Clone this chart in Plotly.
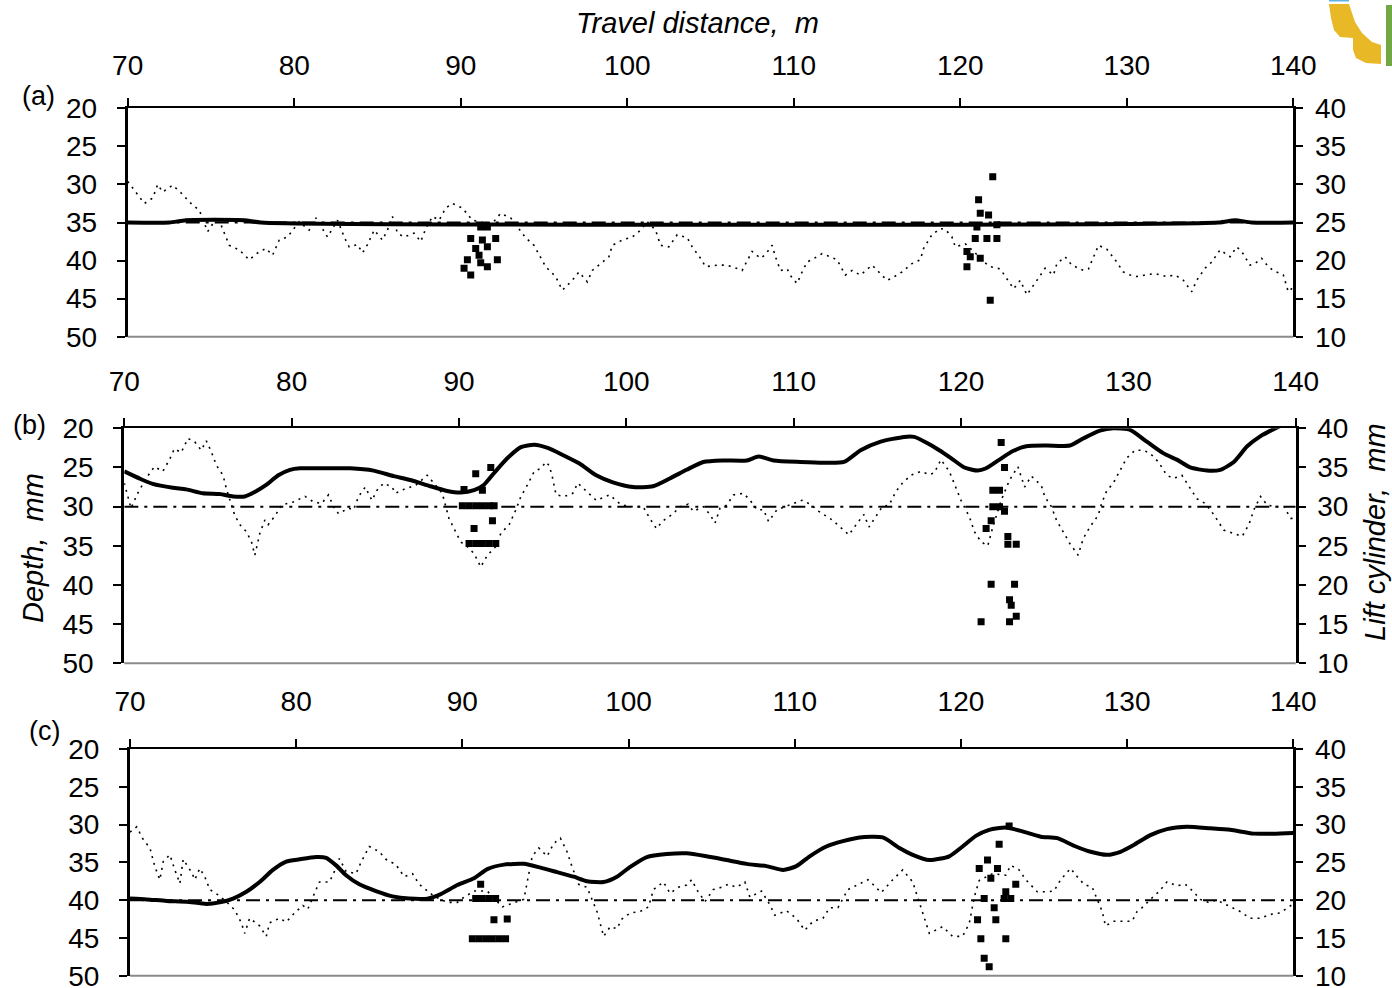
import plotly.graph_objects as go

# ---------------------------------------------------------------------------
# Data: travel distance (m), measured depth (mm, left axis),
# lift cylinder stroke (mm, right axis), target depth and spot checks.
# ---------------------------------------------------------------------------
X_RANGE = [70, 140]
X_TICKS = [70, 80, 90, 100, 110, 120, 130, 140]
DEPTH_TICKS = [20, 25, 30, 35, 40, 45, 50]
LIFT_TICKS = [10, 15, 20, 25, 30, 35, 40]

# ---- (a) ----
A_DEPTH_X = [70.0, 70.5, 71.0, 71.5, 71.8, 72.1, 72.7, 73.2, 73.8, 74.3, 74.8, 75.4, 76.1, 76.7,
             77.3, 77.8, 78.3, 78.7, 79.1, 79.6, 80.3, 80.9, 81.3, 81.8, 82.0, 82.6, 83.0, 83.3,
             83.8, 84.1, 84.4, 84.8, 85.3, 85.6, 85.9, 86.2, 86.6, 87.2, 87.6, 87.9, 88.3, 88.7,
             89.1, 89.5, 90.1, 90.7, 91.3, 91.9, 92.4, 93.0, 93.5, 93.9, 94.4, 94.8, 95.1, 95.7,
             96.1, 96.7, 97.1, 97.6, 97.9, 98.4, 98.9, 99.1, 99.7, 100.3, 100.7, 101.2, 101.7,
             102.0, 102.5, 103.0, 103.6, 103.9, 104.4, 104.7, 105.4, 105.9, 106.3, 106.9, 107.1,
             107.5, 108.0, 108.3, 108.7, 108.9, 109.2, 109.6, 109.9, 110.2, 110.5, 110.8, 111.4,
             111.7, 112.2, 112.6, 113.1, 113.5, 114.0, 114.7, 115.2, 115.6, 115.9, 116.5, 117.1,
             117.6, 117.8, 118.3, 118.8, 119.1, 119.5, 119.7, 120.3, 120.9, 121.3, 121.8, 122.4,
             122.9, 123.2, 123.6, 124.0, 124.6, 125.1, 125.6, 125.8, 126.3, 126.7, 127.4, 127.7,
             128.3, 128.8, 129.3, 129.8, 130.2, 130.6, 131.1, 131.7, 132.4, 132.9, 133.4, 133.9,
             134.2, 134.7, 135.1, 135.6, 136.2, 136.6, 136.9, 137.4, 137.7, 138.1, 138.5, 138.8,
             139.4, 139.7, 140.0]
A_DEPTH_Y = [29.6, 31.0, 32.5, 31.8, 30.0, 31.0, 30.1, 31.1, 32.5, 33.4, 36.2, 34.2, 38.0, 38.6,
             39.9, 39.0, 38.4, 39.3, 37.3, 36.9, 34.9, 36.0, 34.4, 36.2, 36.9, 34.7, 36.9, 38.2,
             37.9, 39.0, 37.9, 36.0, 37.3, 36.0, 34.2, 36.4, 36.9, 36.4, 37.5, 35.8, 34.2, 34.7,
             33.1, 32.5, 33.1, 34.7, 35.0, 35.1, 33.8, 34.4, 35.8, 37.0, 38.0, 39.5, 40.8, 42.1,
             43.9, 42.6, 41.5, 42.8, 41.3, 40.4, 39.5, 38.0, 37.3, 36.9, 36.2, 34.9, 36.0,
             38.0, 38.2, 36.6, 37.0, 38.2, 39.7, 40.8, 40.6, 40.6, 40.8, 41.3, 40.4,
             38.8, 39.7, 39.2, 38.0, 39.5, 41.3, 41.1, 42.3, 43.0, 41.5, 40.2, 39.5,
             39.1, 39.5, 39.9, 41.9, 41.3, 41.9, 40.6, 41.7, 42.6, 42.3, 41.5, 40.4,
             39.9, 38.4, 36.6, 35.8, 35.9, 36.9, 38.2, 37.8, 39.0, 40.0, 40.8, 41.1,
             42.8, 43.7, 42.6, 44.5, 42.6, 41.0, 41.9, 40.4, 39.5, 40.6, 41.3, 41.1,
             38.0, 38.5, 39.9, 41.5, 41.9, 42.1, 41.9, 41.7, 42.1, 41.9, 42.6, 44.1,
             42.6, 41.0, 40.2, 38.6, 39.5, 38.2, 38.8, 40.6, 40.4, 39.7, 40.8, 41.3,
             41.9, 44.1, 43.5]
A_LIFT_X = [70, 72.5, 73.5, 77.0, 78.0, 135.5, 136.5, 137.5, 140]
A_LIFT_Y = [25.0, 25.0, 25.3, 25.3, 25.0, 25.0, 25.3, 25.0, 25.0]
A_TARGET = 35
A_SPOT_X = [91.2, 91.6, 90.6, 91.3, 92.1, 90.9, 91.6, 91.1, 90.4, 92.2, 90.2, 91.6, 90.6, 91.2,
            121.95, 121.1, 121.2, 121.7, 121.0, 122.2, 120.9, 121.6, 122.2, 120.4, 120.6, 121.2,
            120.4, 121.8]
A_SPOT_Y = [35.6, 35.6, 37.1, 37.3, 37.1, 38.4, 38.2, 39.3, 39.9, 39.9, 41.0, 40.8, 41.9, 40.3,
            29.0, 32.0, 33.8, 34.0, 35.6, 35.3, 37.1, 37.1, 37.1, 38.8, 39.5, 39.7, 40.8, 45.2]

# ---- (b) ----
B_DEPTH_X = [70.0, 70.4, 70.8, 71.3, 71.8, 72.3, 72.7, 73.0, 73.4, 73.8, 74.2, 74.6, 74.9, 75.2,
             75.5, 75.9, 76.1, 76.3, 76.6, 76.9, 77.3, 77.6, 77.8, 78.1, 78.4, 78.6, 79.0, 79.4,
             80.1, 80.8, 81.3, 81.8, 82.2, 82.5, 82.8, 83.4, 83.7, 84.0, 84.4, 84.8, 85.1, 85.5,
             86.0, 86.2, 86.8, 87.4, 88.1, 88.7, 89.0, 89.4, 89.9, 90.1, 90.5, 90.9, 91.3, 91.7,
             92.2, 92.5, 93.0, 93.4, 93.7, 94.1, 94.5, 94.9, 95.2, 95.4, 95.6, 95.8, 96.3, 96.8,
             97.1, 97.6, 98.2, 99.0, 99.6, 100.1, 100.6, 101.0, 101.4, 101.8, 102.2, 102.8,
             103.2, 103.7, 104.0, 104.6, 105.0, 105.3, 105.6, 106.0, 106.4, 107.0, 107.4, 107.8,
             108.2, 108.5, 109.0, 110.0, 110.5, 111.0, 111.5, 112.3, 112.8, 113.3, 113.8, 114.2,
             114.5, 115.0, 115.3, 115.7, 116.1, 116.5, 117.0, 117.6, 118.1, 118.4, 118.8, 119.3,
             119.6, 120.0, 120.5, 120.8, 121.2, 121.6, 121.9, 122.4, 122.9, 123.4, 123.8, 124.2,
             124.8, 125.0, 125.4, 125.7, 126.1, 126.5, 127.0, 127.3, 127.7, 128.2, 128.4, 128.7,
             129.1, 129.5, 129.9, 130.4, 130.9, 131.3, 131.8, 132.3, 132.7, 133.2, 133.7, 134.1,
             134.6, 135.1, 135.7, 136.3, 136.8, 137.2, 137.5, 137.9, 138.3, 138.8, 139.3, 139.7,
             140.0]
B_DEPTH_Y = [27.0, 30.2, 28.3, 26.4, 24.9, 25.5, 24.0, 22.6, 23.1, 21.3, 21.7, 22.8, 21.6, 23.0,
             24.7, 26.0, 27.7, 29.2, 31.1, 32.3, 33.2, 34.5, 36.2, 33.4, 31.7, 32.3, 31.2, 29.8,
             29.4, 28.7, 29.4, 29.6, 28.5, 30.0, 30.9, 30.2, 30.4, 28.7, 27.5, 29.2, 27.9, 27.0,
             27.5, 28.3, 27.7, 27.3, 26.0, 27.5, 28.3, 31.5, 33.7, 34.5, 35.1, 36.0, 37.7, 36.2,
             35.1, 33.4, 32.3, 30.4, 28.7, 27.2, 25.5, 25.1, 24.3, 24.8, 26.4, 28.5, 28.7, 28.3,
             27.0, 28.0, 29.2, 28.5, 29.6, 30.0, 30.0, 30.0, 31.5, 32.8, 31.8, 30.9,
             30.0, 29.7, 30.6, 30.0, 31.0, 32.1, 30.2, 29.8, 28.5, 28.3, 29.2, 30.4,
             30.4, 31.9, 30.4, 29.6, 29.2, 29.7, 30.6, 31.7, 32.6, 33.6, 32.1, 31.0,
             32.6, 31.0, 30.0, 29.8, 28.1, 27.0, 26.0, 25.5, 25.9, 25.7, 24.0, 25.5,
             27.0, 29.2, 31.3, 33.2, 34.5, 35.0, 32.6, 29.2, 26.6, 24.9, 27.5, 26.1,
             27.3, 28.7, 30.0, 31.7, 33.2, 34.7, 36.2, 34.1, 32.6, 31.1, 29.6, 28.0,
             27.0, 25.3, 23.8, 22.8, 22.8, 23.2, 24.3, 26.0, 26.4, 26.0, 27.7, 29.0,
             29.6, 31.0, 33.0, 33.4, 33.8, 32.3, 30.4, 28.7, 29.8, 30.0, 30.0, 31.5,
             31.5]
B_LIFT_X = [70.0, 70.9, 71.7, 72.9, 73.7, 74.7, 75.7, 76.5, 77.2, 77.9, 78.5, 79.2, 79.9, 80.5,
            81.7, 83.5, 84.9, 86.1, 87.1, 88.3, 89.3, 90.1, 90.9, 91.5, 92.1, 92.9, 93.7, 94.5,
            95.3, 96.2, 97.2, 98.2, 99.2, 100.4, 101.6, 102.6, 103.6, 104.6, 105.8, 107.2, 107.9,
            108.8, 110.4, 111.8, 113.0, 114.0, 115.2, 116.6, 117.2, 118.0, 118.7, 119.4, 120.2,
            121.0, 121.5, 122.3, 123.1, 123.9, 125.1, 126.5, 127.3, 128.3, 129.1, 130.1, 131.1,
            132.1, 132.9, 133.7, 134.7, 135.5, 136.3, 137.1, 137.9, 138.5, 139.2, 140.0]
B_LIFT_Y = [34.5, 33.6, 32.9, 32.4, 32.2, 31.7, 31.6, 31.3, 31.3, 32.0, 32.8, 34.0, 34.7, 34.9,
            34.9, 34.9, 34.6, 33.9, 33.4, 32.6, 32.0, 31.8, 32.1, 32.8, 34.3, 36.2, 37.6, 37.9,
            37.5, 36.6, 35.5, 34.0, 33.1, 32.5, 32.6, 33.6, 34.7, 35.7, 35.9, 35.9, 36.4,
            35.9, 35.7, 35.6, 35.7, 37.2, 38.3, 38.9, 38.9, 38.1, 37.2, 36.2, 35.0,
            34.6, 34.9, 36.0, 37.1, 37.7, 37.8, 37.8, 38.7, 39.7, 40.0, 39.8, 38.3,
            36.8, 36.0, 35.0, 34.6, 34.7, 35.7, 37.7, 39.0, 39.7, 40.4, 41.0]
B_TARGET = 30
B_SPOT_X = [91.9, 91.0, 90.3, 91.4, 90.2, 90.6, 91.0, 91.4, 91.8, 92.1, 90.9, 92.0,
            90.6, 91.0, 91.4, 91.8, 92.2,
            122.4, 122.6, 121.9, 122.3, 121.9, 122.3, 122.6, 121.8, 121.5, 122.8, 122.8, 123.3,
            121.8, 123.2, 122.9, 123.0, 123.3, 122.9, 121.2]
B_SPOT_Y = [25.0, 25.8, 27.8, 27.9, 29.9, 29.9, 29.9, 29.9, 29.9, 29.9, 32.8, 31.8,
            34.7, 34.7, 34.7, 34.7, 34.7,
            21.8, 25.0, 27.9, 27.9, 30.0, 30.0, 30.6, 31.8, 32.8, 33.8, 34.8, 34.8,
            39.9, 39.9, 41.9, 42.6, 44.0, 44.7, 44.7]

# ---- (c) ----
C_DEPTH_X = [70.0, 70.4, 70.8, 71.2, 71.5, 71.8, 72.0, 72.4, 72.7, 73.0, 73.2, 73.7, 73.9, 74.2,
             74.5, 74.8, 75.3, 75.8, 76.3, 76.7, 76.9, 77.2, 77.8, 78.2, 78.4, 79.0, 79.4, 79.9,
             80.4, 80.7, 81.1, 81.4, 82.0, 82.3, 82.6, 83.0, 83.6, 83.9, 84.4, 85.0, 85.4, 86.0,
             86.5, 87.0, 87.4, 88.3, 89.1, 89.7, 89.9, 90.7, 91.5, 92.4, 92.9, 93.7, 94.0, 94.2,
             94.6, 95.1, 95.5, 95.9, 96.3, 96.6, 97.0, 97.5, 98.1, 98.5, 98.9, 99.3, 99.6, 100.1,
             100.7, 101.2, 101.5, 102.1, 102.5, 103.0, 103.5, 103.8, 104.1, 104.6, 105.1, 105.6,
             106.0, 106.5, 107.0, 107.3, 108.0, 108.5, 108.8, 109.5, 110.1, 110.6, 111.1, 111.7,
             112.1, 112.6, 113.2, 113.8, 114.4, 114.7, 115.2, 115.9, 116.5, 117.1, 117.6, 118.1,
             118.9, 119.5, 120.1, 120.5, 120.8, 121.1, 121.9, 122.7, 123.0, 123.5, 123.9, 124.6,
             125.2, 125.6, 126.0, 126.6, 127.0, 127.4, 127.9, 128.2, 128.5, 128.7, 129.2, 129.8,
             130.3, 130.6, 130.9, 131.4, 131.9, 132.4, 133.0, 133.5, 134.0, 134.4, 134.9, 135.4,
             135.8, 136.3, 136.8, 137.4, 138.0, 138.6, 139.2, 139.8, 140.0]
C_DEPTH_Y = [31.0, 30.3, 32.0, 33.1, 35.6, 37.3, 34.9, 34.0, 36.0, 37.8, 34.6, 36.3, 37.3, 35.8,
             36.9, 38.6, 39.3, 40.2, 41.3, 43.0, 44.4, 42.4, 43.4, 44.8, 43.0, 42.4, 42.9, 41.7,
             40.7, 41.2, 39.1, 37.6, 37.6, 36.2, 34.5, 36.2, 36.5, 35.0, 32.9, 33.6, 34.6, 35.3,
             36.9, 36.5, 37.9, 39.5, 40.3, 40.3, 39.9, 38.8, 38.8, 40.9, 40.5, 39.9, 36.5, 34.2,
             33.1, 34.2, 32.5, 31.8, 33.6, 35.6, 37.9, 38.3, 41.5, 44.8, 43.5, 43.8, 42.5, 41.7,
             41.5, 40.9, 38.6, 37.6, 39.1, 38.3, 38.0, 37.3, 38.6, 40.2, 38.6, 38.3,
             37.9, 38.3, 37.6, 39.6, 38.8, 40.6, 42.0, 41.4, 42.4, 44.0, 42.8, 42.4,
             41.0, 41.0, 38.6, 37.9, 37.3, 37.9, 39.0, 37.3, 36.0, 37.6, 41.1, 44.4,
             43.5, 44.8, 44.8, 43.1, 39.6, 37.4, 36.5, 36.7, 35.4, 36.0, 37.3, 38.9,
             38.9, 38.8, 37.3, 35.8, 36.9, 37.9, 38.3, 39.9, 41.5, 43.4, 42.8, 42.8,
             42.8, 41.5, 41.0, 39.9, 38.9, 37.6, 38.1, 37.9, 38.9, 39.9, 40.3, 40.0,
             40.4, 41.0, 41.5, 42.4, 42.4, 41.9, 41.7, 40.8, 40.5]
C_LIFT_X = [70.0, 71.0, 72.2, 73.4, 74.6, 75.4, 76.2, 77.0, 77.8, 78.6, 79.4, 80.2, 81.2, 81.8,
            82.4, 83.0, 83.8, 84.8, 85.8, 86.8, 87.9, 88.7, 89.7, 90.7, 91.5, 92.5, 93.7, 94.7,
            95.7, 96.7, 97.5, 98.5, 99.3, 100.1, 101.1, 102.3, 103.5, 104.7, 105.9, 107.1,
            108.3, 109.3, 110.1, 110.9, 111.9, 112.9, 113.9, 115.3, 116.3, 117.1, 118.1, 119.3,
            120.1, 120.9, 121.7, 122.7, 123.7, 124.8, 125.8, 126.8, 127.8, 128.8, 129.6, 130.4,
            131.4, 132.4, 133.6, 135.0, 136.2, 137.6, 138.8, 140.0]
C_LIFT_Y = [20.2, 20.1, 19.9, 19.8, 19.5, 19.7, 20.2, 21.1, 22.4, 24.0, 25.1, 25.4, 25.7, 25.6,
            24.6, 23.3, 22.1, 21.2, 20.5, 20.2, 20.2, 20.8, 22.0, 22.9, 24.1, 24.7, 24.8, 24.3,
            23.7, 23.1, 22.5, 22.4, 23.1, 24.4, 25.7, 26.1, 26.2, 25.8, 25.3, 24.8,
            24.5, 24.0, 24.5, 25.8, 27.1, 27.8, 28.3, 28.3, 26.9, 26.0, 25.3, 25.8,
            27.1, 28.5, 29.3, 29.6, 29.1, 28.4, 28.2, 27.2, 26.4, 26.0, 26.4, 27.3,
            28.6, 29.4, 29.7, 29.5, 29.3, 28.8, 28.8, 28.9]
C_TARGET = 40
C_SPOT_X = [91.1, 90.8, 91.2, 91.6, 92.0, 91.9, 92.7, 90.6, 91.0, 91.4, 91.8, 92.2, 92.6,
            122.9, 122.3, 121.6, 121.1, 122.2, 121.8, 123.3, 122.7, 123.0, 122.6, 121.4, 122.0,
            121.0, 122.1, 121.2, 122.7, 121.4, 121.7]
C_SPOT_Y = [37.9, 39.8, 39.8, 39.8, 39.8, 42.6, 42.5, 45.1, 45.1, 45.1, 45.1, 45.1, 45.1,
            30.2, 32.6, 34.7, 35.8, 35.8, 37.1, 37.9, 38.9, 39.8, 39.8, 39.8, 41.0,
            42.6, 42.6, 45.1, 45.1, 47.7, 48.8]

PANELS = [
    dict(tag="(a)", dx=A_DEPTH_X, dy=A_DEPTH_Y, lx=A_LIFT_X, ly=A_LIFT_Y,
         target=A_TARGET, sx=A_SPOT_X, sy=A_SPOT_Y),
    dict(tag="(b)", dx=B_DEPTH_X, dy=B_DEPTH_Y, lx=B_LIFT_X, ly=B_LIFT_Y,
         target=B_TARGET, sx=B_SPOT_X, sy=B_SPOT_Y),
    dict(tag="(c)", dx=C_DEPTH_X, dy=C_DEPTH_Y, lx=C_LIFT_X, ly=C_LIFT_Y,
         target=C_TARGET, sx=C_SPOT_X, sy=C_SPOT_Y),
]

# ---------------------------------------------------------------------------
# Layout geometry (pixels in a 1392 x 988 page)
# ---------------------------------------------------------------------------
W, H = 1392, 988
# left, right, top, bottom edges of each plot area
BOXES = [(127.7, 1293.3, 108.3, 336.7),
         (124.3, 1295.7, 428.3, 663.3),
         (130.0, 1293.3, 749.0, 975.7)]
TAG_POS = [(38, 96), (29, 425), (44, 731)]
TOP_LABEL_GAP = [12, 16, 17]

NUM_FONT = dict(family="Liberation Sans, Arial", size=28, color="black")
TXT_FONT = dict(family="Liberation Sans, Arial", size=29, color="black", style="italic")


def px(x):
    return x / W


def py(y):
    return 1 - y / H


fig = go.Figure()
layout = dict(width=W, height=H, margin=dict(l=0, r=0, t=0, b=0, pad=0),
              paper_bgcolor="white", plot_bgcolor="white", showlegend=False)
shapes = []
annotations = []

for i, (p, box) in enumerate(zip(PANELS, BOXES)):
    x0, x1, y0, y1 = box
    n = i + 1
    xa = "x" if n == 1 else f"x{n}"
    ya_l = "y" if n == 1 else f"y{3 * i + 1}"
    ya_r = f"y{3 * i + 2}"
    xkey = "xaxis" if n == 1 else f"xaxis{n}"
    lkey = "yaxis" if n == 1 else f"yaxis{3 * i + 1}"
    rkey = f"yaxis{3 * i + 2}"
    tkey = f"yaxis{3 * i + 3}"

    layout[xkey] = dict(domain=[px(x0), px(x1)], anchor=ya_l, side="top", automargin=False,
                        range=X_RANGE, tickvals=X_TICKS, ticks="outside", ticklen=8,
                        tickwidth=2, tickcolor="black", showline=True, linewidth=2,
                        linecolor="black", showgrid=False, zeroline=False,
                        tickfont=NUM_FONT, ticklabelstandoff=TOP_LABEL_GAP[i],
                        ticklabeloverflow="allow")
    layout[lkey] = dict(domain=[py(y1), py(y0)], anchor=xa, range=[50, 20], automargin=False,
                        tickvals=DEPTH_TICKS, ticks="outside", ticklen=8, tickwidth=2,
                        tickcolor="black", showline=True, linewidth=3, linecolor="black",
                        showgrid=False, zeroline=False, tickfont=NUM_FONT,
                        ticklabelstandoff=14, ticklabeloverflow="allow")
    layout[rkey] = dict(overlaying=ya_l, side="right", anchor=xa, range=[10, 40],
                        automargin=False,
                        tickvals=LIFT_TICKS, ticks="outside", ticklen=7, tickwidth=2,
                        tickcolor="black", showline=True, linewidth=3, linecolor="black",
                        showgrid=False, zeroline=False, tickfont=NUM_FONT,
                        ticklabelstandoff=6, ticklabeloverflow="allow")
    # inner half of the crossing tick marks on the right-hand axis
    layout[tkey] = dict(overlaying=ya_l, side="right", anchor=xa, range=[10, 40],
                        automargin=False,
                        tickvals=LIFT_TICKS, ticks="inside", ticklen=12, tickwidth=2,
                        tickcolor="black", showline=False, showticklabels=False,
                        showgrid=False, zeroline=False)

    # measured depth (dotted)
    fig.add_trace(go.Scatter(x=p["dx"], y=p["dy"], xaxis=xa, yaxis=ya_l, mode="lines",
                             line=dict(color="black", width=1.6, dash="2px,5px")))
    # target depth (dash-dot)
    fig.add_trace(go.Scatter(x=X_RANGE, y=[p["target"], p["target"]], xaxis=xa, yaxis=ya_l,
                             mode="lines",
                             line=dict(color="black", width=2, dash="14px,6px,3px,6px")))
    # lift cylinder (solid)
    fig.add_trace(go.Scatter(x=p["lx"], y=p["ly"], xaxis=xa, yaxis=ya_r, mode="lines",
                             line=dict(color="black", width=4, shape="spline", smoothing=0.6)))
    # spot-check depths (squares)
    fig.add_trace(go.Scatter(x=p["sx"], y=p["sy"], xaxis=xa, yaxis=ya_l, mode="markers",
                             marker=dict(symbol="square", size=7, color="black",
                                         line=dict(width=0))))

    # grey bottom border of the plot area
    shapes.append(dict(type="line", xref=f"{xa} domain", yref=f"{ya_l} domain",
                       x0=0, x1=1, y0=0, y1=0, line=dict(color="#8a8a8a", width=2)))

    tx, ty = TAG_POS[i]
    annotations.append(dict(text=p["tag"], x=px(tx), y=py(ty), xref="paper", yref="paper",
                            showarrow=False, xanchor="center", yanchor="middle",
                            font=dict(family="Liberation Sans, Arial", size=27,
                                      color="black")))

annotations += [
    dict(text="Travel distance,  m", x=px(698), y=py(23), xref="paper", yref="paper",
         showarrow=False, xanchor="center", yanchor="middle", font=TXT_FONT),
    dict(text="Depth,  mm", x=px(33), y=py(548), xref="paper", yref="paper",
         showarrow=False, xanchor="center", yanchor="middle", textangle=-90, font=TXT_FONT),
    dict(text="Lift cylinder,  mm", x=px(1375), y=py(532), xref="paper", yref="paper",
         showarrow=False, xanchor="center", yanchor="middle", textangle=-90, font=TXT_FONT),
]

# small logo fragment in the top-right corner
LOGO_YELLOW = [(1329, 4), (1349, 4), (1355, 22), (1362, 33), (1372, 42), (1381, 45),
               (1381, 64), (1366, 63), (1356, 58), (1353, 50), (1353, 38), (1340, 37),
               (1334, 30), (1331, 18)]
path = "M " + " L ".join(f"{px(x):.5f},{py(y):.5f}" for x, y in LOGO_YELLOW) + " Z"
shapes.append(dict(type="path", xref="paper", yref="paper", path=path,
                   fillcolor="#E9B826", line=dict(width=0), layer="above"))
shapes.append(dict(type="rect", xref="paper", yref="paper", x0=px(1386), x1=px(1392),
                   y0=py(66), y1=py(5), fillcolor="#72A843", line=dict(width=0)))
shapes.append(dict(type="rect", xref="paper", yref="paper", x0=px(1329), x1=px(1349),
                   y0=py(1.5), y1=py(0), fillcolor="#5DB3E3", line=dict(width=0)))

layout["shapes"] = shapes
layout["annotations"] = annotations
fig.update_layout(**layout)

fig.write_html("out.html")
